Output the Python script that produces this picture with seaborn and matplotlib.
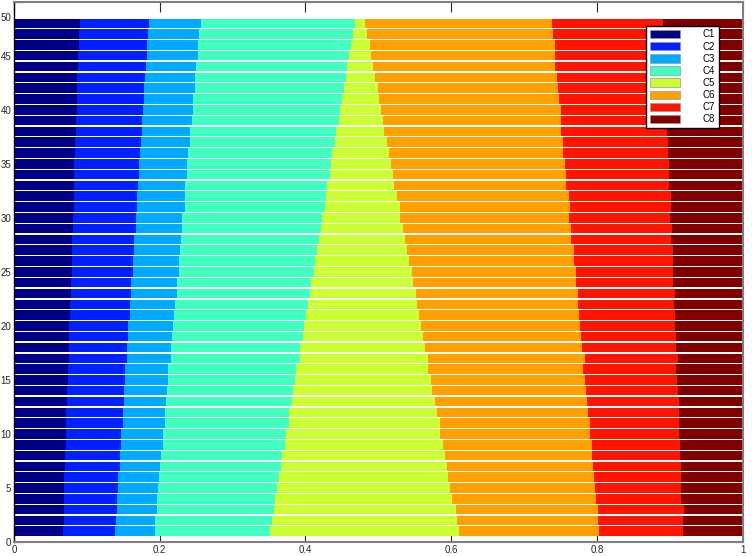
import numpy as np
import pandas as pd
import seaborn as sns
import matplotlib.pyplot as plt
from matplotlib.patches import Patch
from matplotlib.transforms import ScaledTranslation

plt.rcParams['font.family'] = ['Liberation Sans', 'DejaVu Sans']

rows = list(range(1, 49))
cats = ['C1', 'C2', 'C3', 'C4', 'C5', 'C6', 'C7', 'C8']

# share of each category per bar (bar 1 at the bottom)
c1 = [.067, .068, .068, .068, .069, .069, .070, .070, .071, .071, .072, .072,
      .073, .073, .074, .074, .075, .075, .076, .076, .077, .077, .078, .078,
      .079, .079, .080, .080, .081, .081, .082, .082, .082, .083, .083, .084,
      .084, .085, .085, .086, .086, .087, .087, .088, .088, .089, .089, .090]
c2 = [.072, .072, .073, .073, .074, .074, .075, .075, .076, .076, .077, .077,
      .078, .078, .079, .079, .080, .080, .081, .081, .082, .082, .083, .083,
      .084, .084, .085, .085, .086, .086, .087, .087, .088, .088, .089, .089,
      .090, .090, .091, .091, .092, .092, .093, .093, .094, .094, .095, .095]
c3 = [.054, .054, .055, .055, .055, .056, .056, .057, .057, .057, .058, .058,
      .058, .059, .059, .059, .060, .060, .060, .061, .061, .062, .062, .062,
      .063, .063, .063, .064, .064, .064, .065, .065, .065, .066, .066, .066,
      .067, .067, .068, .068, .068, .069, .069, .069, .070, .070, .070, .071]
c4 = [.158, .160, .161, .162, .163, .164, .165, .166, .168, .169, .170, .171,
      .172, .173, .174, .175, .177, .178, .179, .180, .181, .182, .183, .185,
      .186, .187, .188, .189, .190, .191, .193, .194, .195, .196, .197, .198,
      .199, .200, .202, .203, .204, .205, .206, .207, .208, .210, .211, .212]
c5 = [.259, .254, .249, .243, .238, .233, .228, .223, .217, .212, .207, .202,
      .197, .191, .186, .181, .176, .171, .165, .160, .155, .150, .145, .139,
      .134, .129, .124, .118, .113, .108, .103, .098, .092, .087, .082, .077,
      .072, .066, .061, .056, .051, .046, .040, .035, .030, .025, .020, .014]
c6 = [.193, .194, .196, .197, .198, .200, .201, .202, .204, .205, .206, .208,
      .209, .211, .212, .213, .215, .216, .217, .219, .220, .221, .223, .224,
      .225, .227, .228, .229, .231, .232, .233, .235, .236, .237, .239, .240,
      .241, .243, .244, .246, .247, .248, .250, .251, .252, .254, .255, .256]
c7 = [.115, .116, .117, .117, .118, .119, .120, .121, .121, .122, .123, .124,
      .125, .126, .126, .127, .128, .129, .130, .130, .131, .132, .133, .134,
      .134, .135, .136, .137, .138, .138, .139, .140, .141, .142, .143, .143,
      .144, .145, .146, .147, .147, .148, .149, .150, .151, .151, .152, .153]
c8 = [.082, .083, .083, .084, .084, .085, .085, .086, .087, .087, .088, .088,
      .089, .089, .090, .091, .091, .092, .092, .093, .093, .094, .095, .095,
      .096, .096, .097, .097, .098, .099, .099, .100, .100, .101, .102, .102,
      .103, .103, .104, .104, .105, .106, .106, .107, .107, .108, .108, .109]

colors = ['#000088', '#0020ff', '#00aaff', '#40ffc0',
          '#ccff33', '#ffa000', '#ff1400', '#800000']

series = [c1, c2, c3, c4, c5, c6, c7, c8]
df = pd.DataFrame({
    'row': rows * len(cats),
    'share': sum(series, []),
    'cat': [c for c in cats for _ in rows],
})

fig = plt.figure(figsize=(7.52, 5.56), dpi=100)
ax = fig.add_axes([14 / 752, 1 - 542 / 556, (742.7 - 14) / 752, (542 - 1.7) / 556])

sns.histplot(data=df, y='row', weights='share', hue='cat', hue_order=cats[::-1],
             multiple='stack', discrete=True, shrink=0.88, palette=dict(zip(cats, colors)),
             alpha=1, linewidth=0, legend=False, ax=ax)

ax.set_xlim(0, 1)
ax.set_ylim(0, 50)
ax.set_xticks([0, 0.2, 0.4, 0.6, 0.8, 1])
ax.set_xticklabels(['0', '0.2', '0.4', '0.6', '0.8', '1'])
ax.set_yticks(range(0, 51, 5))
ax.set_xlabel('')
ax.set_ylabel('')
ax.set_axisbelow(True)
ax.tick_params(direction='in', length=7, width=0.8, top=True, right=True,
               labelsize=7, labelcolor='#262626', color='#262626', pad=2)
for side in ['top', 'bottom', 'right']:
    ax.spines[side].set_color('#808080')
    ax.spines[side].set_linewidth(1.5)
ax.spines['left'].set_color('black')
ax.spines['left'].set_linewidth(1)

# the top "50" label sits a bit below the frame edge
lab = ax.get_yticklabels()[-1]
lab.set_transform(lab.get_transform() + ScaledTranslation(0, -15 / 100, fig.dpi_scale_trans))

handles = [Patch(facecolor=col, edgecolor='#999999', linewidth=0.5, label=c)
           for c, col in zip(cats, colors)]
leg = ax.legend(handles=handles, loc='upper right', fontsize=7, frameon=True,
                fancybox=False, framealpha=1, edgecolor='black',
                handlelength=3.1, handleheight=0.96, handletextpad=2.3,
                labelspacing=0.22, borderpad=0.4, borderaxespad=2.45)
leg.get_frame().set_linewidth(1)

fig.savefig('out.png', dpi=100)
